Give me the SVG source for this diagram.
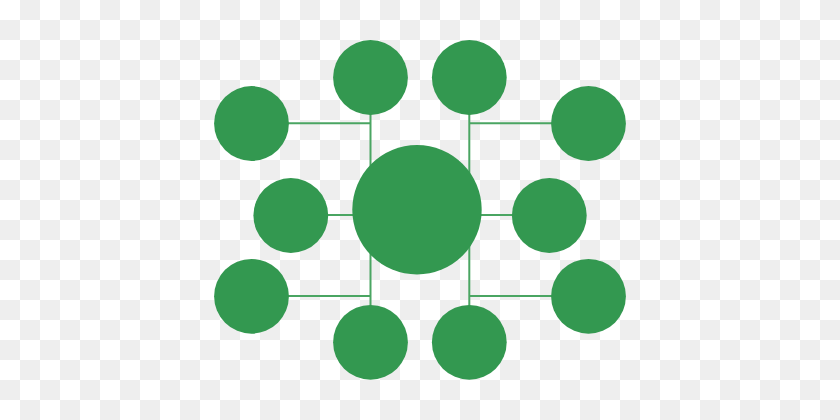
<svg xmlns="http://www.w3.org/2000/svg" width="840" height="420" viewBox="0 0 840 420">
  <defs>
    <pattern id="checker" x="0" y="0" width="40" height="40" patternUnits="userSpaceOnUse">
      <rect x="0" y="0" width="40" height="40" fill="#ffffff"/>
      <rect x="20" y="0" width="20" height="20" fill="#eeeeee"/>
      <rect x="0" y="20" width="20" height="20" fill="#eeeeee"/>
    </pattern>
    <style>
      .node { fill: #339850; }
      .link { stroke: #4aa562; stroke-width: 2; fill: none; }
    </style>
  </defs>
  <rect x="0" y="0" width="840" height="420" fill="url(#checker)"/>
  <g id="connectors">
    <line class="link" x1="370.5" y1="110" x2="370.5" y2="310"/>
    <line class="link" x1="469.3" y1="110" x2="469.3" y2="310"/>
    <line class="link" x1="285" y1="123.3" x2="370.5" y2="123.3"/>
    <line class="link" x1="469.3" y1="123.3" x2="555" y2="123.3"/>
    <line class="link" x1="285" y1="296" x2="370.5" y2="296"/>
    <line class="link" x1="469.3" y1="296" x2="555" y2="296"/>
    <line class="link" x1="325" y1="215" x2="360" y2="215"/>
    <line class="link" x1="475" y1="215" x2="515" y2="215"/>
  </g>
  <g id="center"><circle class="node" cx="417" cy="209.7" r="64.7"/></g>
  <g id="top-left"><circle class="node" cx="370.5" cy="77.5" r="37.4"/></g>
  <g id="top-right"><circle class="node" cx="469.3" cy="77.5" r="37.4"/></g>
  <g id="upper-left"><circle class="node" cx="251.5" cy="123.5" r="37.4"/></g>
  <g id="upper-right"><circle class="node" cx="588.5" cy="123.5" r="37.4"/></g>
  <g id="mid-left"><circle class="node" cx="290.8" cy="215.5" r="37.4"/></g>
  <g id="mid-right"><circle class="node" cx="549.3" cy="215.5" r="37.4"/></g>
  <g id="lower-left"><circle class="node" cx="251.5" cy="296.3" r="37.4"/></g>
  <g id="lower-right"><circle class="node" cx="588.5" cy="296.3" r="37.4"/></g>
  <g id="bottom-left"><circle class="node" cx="370.5" cy="342.3" r="37.4"/></g>
  <g id="bottom-right"><circle class="node" cx="469.3" cy="342.3" r="37.4"/></g>
</svg>
